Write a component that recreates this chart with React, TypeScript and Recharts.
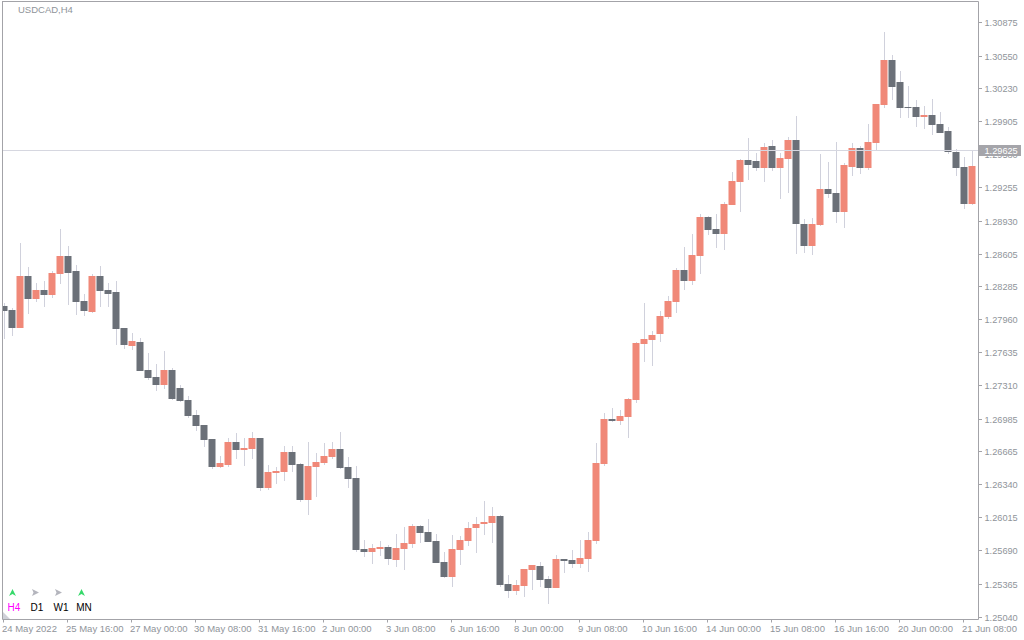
import { Bar, ComposedChart, ReferenceLine, XAxis, YAxis } from "recharts";

const opens = [
  1.28091, 1.28052, 1.27875, 1.28386, 1.2816, 1.28248, 1.28199, 1.28405, 1.28582, 1.28435, 1.2814,
  1.28032, 1.28386, 1.28248, 1.28229, 1.27875, 1.27698, 1.27738, 1.27463, 1.27394, 1.27315, 1.27463,
  1.27286, 1.27168, 1.27021, 1.26923, 1.26785, 1.2651, 1.2653, 1.26756, 1.26677, 1.26687, 1.26795,
  1.26304, 1.26451, 1.26461, 1.26657, 1.2654, 1.26186, 1.2651, 1.26549, 1.26608, 1.26687, 1.2651,
  1.26402, 1.25705, 1.25675, 1.25705, 1.25724, 1.25597, 1.25705, 1.25754, 1.25931, 1.25872, 1.25783,
  1.25577, 1.2543, 1.25695, 1.25783, 1.25911, 1.2595, 1.2596, 1.26029, 1.25361, 1.25293, 1.25342,
  1.25499, 1.25538, 1.2541, 1.25322, 1.25607, 1.25597, 1.25558, 1.25607, 1.25783, 1.2654, 1.26981,
  1.26962, 1.27001, 1.27168, 1.27718, 1.27757, 1.27816, 1.27983, 1.2813, 1.28445, 1.28337, 1.28582,
  1.28965, 1.28847, 1.28798, 1.29083, 1.29309, 1.29525, 1.29515, 1.29446, 1.29662, 1.29446, 1.29535,
  1.29721, 1.28896, 1.2868, 1.28887, 1.2924, 1.29201, 1.29014, 1.29456, 1.29643, 1.29446, 1.29692,
  1.30065, 1.30507, 1.30291, 1.30045, 1.30045, 1.29947, 1.29967, 1.29878, 1.2981, 1.29603, 1.29456,
  1.29093,
];

const highs = [
  1.28121, 1.28071, 1.2871, 1.28474, 1.28317, 1.28337, 1.28435, 1.28847, 1.2868, 1.28494, 1.28209,
  1.28405, 1.28484, 1.28317, 1.28337, 1.27875, 1.27826, 1.27777, 1.2763, 1.27521, 1.2765, 1.27482,
  1.27315, 1.27207, 1.2707, 1.26923, 1.26785, 1.26618, 1.26795, 1.26844, 1.26795, 1.26854, 1.26795,
  1.2653, 1.2651, 1.26716, 1.26716, 1.26549, 1.26756, 1.26648, 1.26746, 1.26756, 1.26854, 1.26608,
  1.2652, 1.25793, 1.25754, 1.25783, 1.25744, 1.25852, 1.25921, 1.2595, 1.2594, 1.25999, 1.25852,
  1.25675, 1.25842, 1.25833, 1.2597, 1.26019, 1.26176, 1.26117, 1.26039, 1.2545, 1.254, 1.25509,
  1.25548, 1.25577, 1.2544, 1.25646, 1.25607, 1.25695, 1.25793, 1.25872, 1.26746, 1.2704, 1.27089,
  1.2707, 1.27188, 1.27738, 1.28121, 1.27846, 1.28042, 1.28189, 1.28464, 1.2867, 1.28798, 1.28995,
  1.28975, 1.28995, 1.29112, 1.29407, 1.29535, 1.29741, 1.29594, 1.29692, 1.29721, 1.29594, 1.29751,
  1.29957, 1.28945, 1.28955, 1.29584, 1.29505, 1.29702, 1.29495, 1.29692, 1.29662, 1.29878, 1.30075,
  1.30782, 1.30556, 1.30399, 1.30251, 1.30114, 1.30055, 1.30124, 1.29996, 1.29849, 1.29633, 1.29554,
  1.29623,
];

const lows = [
  1.27767, 1.27796, 1.27875, 1.28013, 1.2813, 1.28081, 1.2817, 1.28307, 1.28101, 1.28003, 1.27993,
  1.28022, 1.28081, 1.28081, 1.27708, 1.27669, 1.27659, 1.27453, 1.27364, 1.27256, 1.27276, 1.27168,
  1.27149, 1.26991, 1.26864, 1.26707, 1.2649, 1.265, 1.2651, 1.26589, 1.2652, 1.26589, 1.26274,
  1.26284, 1.26343, 1.26373, 1.26461, 1.26166, 1.26039, 1.26216, 1.2653, 1.26589, 1.2649, 1.26304,
  1.25675, 1.25626, 1.25558, 1.25636, 1.25548, 1.25528, 1.25499, 1.25715, 1.25764, 1.25774, 1.25567,
  1.2542, 1.25332, 1.25548, 1.25734, 1.25665, 1.25842, 1.25764, 1.25332, 1.25224, 1.25253, 1.25234,
  1.25302, 1.25332, 1.25165, 1.25322, 1.25469, 1.25519, 1.25519, 1.25479, 1.25754, 1.2652, 1.26952,
  1.26923, 1.26795, 1.27139, 1.27541, 1.27502, 1.27738, 1.27963, 1.28022, 1.28248, 1.28297, 1.28405,
  1.28788, 1.2866, 1.28641, 1.29083, 1.29014, 1.29328, 1.29417, 1.29309, 1.29417, 1.29142, 1.29201,
  1.28602, 1.28612, 1.28592, 1.28877, 1.29152, 1.28906, 1.28857, 1.29368, 1.29387, 1.29427, 1.29613,
  1.30035, 1.30114, 1.29937, 1.29937, 1.29849, 1.29829, 1.2977, 1.2979, 1.29584, 1.29368, 1.29044,
  1.29083,
];

const closes = [
  1.28042, 1.27875, 1.28386, 1.2816, 1.28248, 1.28199, 1.28415, 1.28582, 1.28415, 1.2813, 1.28042,
  1.28386, 1.28238, 1.28209, 1.27865, 1.27708, 1.27747, 1.27453, 1.27384, 1.27315, 1.27463, 1.27178,
  1.27158, 1.27011, 1.26913, 1.26775, 1.2651, 1.26549, 1.26756, 1.26677, 1.26697, 1.26795, 1.26304,
  1.26461, 1.26471, 1.26657, 1.2653, 1.26186, 1.2652, 1.26559, 1.26618, 1.26687, 1.265, 1.26393,
  1.25695, 1.25675, 1.25715, 1.25724, 1.25607, 1.25715, 1.25764, 1.25931, 1.25862, 1.25774, 1.25567,
  1.2543, 1.25705, 1.25793, 1.25911, 1.2595, 1.2597, 1.26029, 1.25352, 1.25293, 1.25352, 1.25509,
  1.25548, 1.254, 1.25322, 1.25607, 1.25587, 1.25558, 1.25616, 1.25793, 1.26549, 1.26981, 1.26962,
  1.27011, 1.27178, 1.27728, 1.27767, 1.27806, 1.27993, 1.2814, 1.28445, 1.28337, 1.28592, 1.28965,
  1.28838, 1.28798, 1.29093, 1.29319, 1.29525, 1.29476, 1.29446, 1.29652, 1.29446, 1.29544, 1.29721,
  1.28896, 1.2868, 1.28896, 1.2924, 1.29191, 1.29014, 1.29476, 1.29643, 1.29446, 1.29702, 1.30075,
  1.30507, 1.30242, 1.30035, 1.30035, 1.29947, 1.29967, 1.29868, 1.2979, 1.29603, 1.29446, 1.29093,
  1.29466,
];

const xTickIndexes = [0, 8, 16, 24, 32, 40, 48, 56, 64, 72, 80, 88, 96, 104, 112, 120];
const xTickLabels = [
  "24 May 2022", "25 May 16:00", "27 May 00:00", "30 May 08:00", "31 May 16:00", "2 Jun 00:00",
  "3 Jun 08:00", "6 Jun 16:00", "8 Jun 00:00", "9 Jun 08:00", "10 Jun 16:00", "14 Jun 00:00",
  "15 Jun 08:00", "16 Jun 16:00", "20 Jun 00:00", "21 Jun 08:00",
];

const priceTicks = [
  1.30875, 1.3055, 1.3023, 1.29905, 1.2958, 1.29255, 1.2893, 1.28605, 1.28285, 1.2796, 1.27635,
  1.2731, 1.26985, 1.26665, 1.2634, 1.26015, 1.2569, 1.25365, 1.2504,
];
const currentPrice = 1.29625;

const UP = "#f08878";
const DOWN = "#6b7078";
const WICK = "#d0d1dc";
const FRAME = "#a3a3a8";
const LABEL = "#8f949a";
const FONT = "'Liberation Sans', sans-serif";

const candles = opens.map((open, i) => ({
  idx: i,
  open,
  high: highs[i],
  low: lows[i],
  close: closes[i],
}));

function Candle(props: any) {
  const { x, y, width, height, payload } = props;
  const { open, high, low, close } = payload;
  const unit = height / (high - low);
  const cx = x + width / 2;
  const top = Math.round(y + (high - Math.max(open, close)) * unit);
  const bottom = Math.round(y + (high - Math.min(open, close)) * unit);
  const left = Math.max(cx - 3.5, 3);
  return (
    <g>
      <rect x={Math.floor(cx)} y={Math.round(y)} width={1} height={Math.round(height)} fill={WICK} />
      <rect
        x={left}
        y={top}
        width={cx + 3.5 - left}
        height={Math.max(bottom - top, 1)}
        fill={close >= open ? UP : DOWN}
      />
    </g>
  );
}

function PriceTick(props: any) {
  const { x, y, payload } = props;
  const current = payload.value === currentPrice;
  const row = Math.round(y);
  return (
    <g>
      {current ? (
        <rect x={979} y={row - 5} width={42} height={11} fill="#a5a5aa" />
      ) : (
        <rect x={979} y={row} width={3} height={1} fill={FRAME} />
      )}
      <text
        x={x}
        y={row + (current ? 4 : 3.5)}
        fontSize={9.2}
        fontFamily={FONT}
        fill={current ? "#ffffff" : LABEL}
      >
        {payload.value.toFixed(5)}
      </text>
    </g>
  );
}

function TimeTick(props: any) {
  const { x, y, payload } = props;
  return (
    <text x={x - 1.5} y={y + 9} fontSize={9.5} fontFamily={FONT} fill={LABEL}>
      {xTickLabels[xTickIndexes.indexOf(payload.value)]}
    </text>
  );
}

function PriceLine(props: any) {
  const row = Math.round(props.y1 ?? props.y) + 0.5;
  return <line x1={props.x1} x2={props.x2} y1={row} y2={row} stroke="#d6d7e0" />;
}

function Overlay() {
  const upArrow = (cx: number) => (
    <polygon
      points={`${cx},589 ${cx + 3.5},596 ${cx},594 ${cx - 3.5},596`}
      fill="#35d96a"
    />
  );
  const sideArrow = (cx: number) => (
    <polygon
      points={`${cx - 3},589 ${cx + 4},592.5 ${cx - 3},596 ${cx - 1.5},592.5`}
      fill="#b4b5bd"
    />
  );
  const tf = { fontSize: 10, fontFamily: FONT, textAnchor: "middle" as const };
  return (
    <svg
      width={1024}
      height={640}
      style={{ position: "absolute", left: 0, top: 0, pointerEvents: "none" }}
    >
      <line x1={2.5} y1={1.5} x2={2.5} y2={619.5} stroke={FRAME} />
      <line x1={2} y1={1.5} x2={978.5} y2={1.5} stroke={FRAME} />
      <polygon points="3,612 3,619 10,619" fill="#cfd0d8" />
      <text x={18} y={13} fontSize={9.5} fontFamily={FONT} fill={LABEL}>
        USDCAD,H4
      </text>
      {upArrow(12.5)}
      {sideArrow(35)}
      {sideArrow(58)}
      {upArrow(81.5)}
      <text x={14} y={611} fill="#ff00ff" {...tf}>H4</text>
      <text x={37} y={611} fill="#000000" {...tf}>D1</text>
      <text x={61} y={611} fill="#000000" {...tf}>W1</text>
      <text x={84} y={611} fill="#000000" {...tf}>MN</text>
    </svg>
  );
}

export default function App() {
  return (
    <div style={{ position: "absolute", left: 0, top: 0, width: 1024, height: 640, background: "#fff" }}>
      <ComposedChart
        width={1024}
        height={640}
        data={candles}
        barCategoryGap={0}
        margin={{ top: 1.5, right: 0, bottom: 0, left: 2.5 }}
      >
        <XAxis
          dataKey="idx"
          ticks={xTickIndexes}
          interval={0}
          height={20.5}
          padding={{ left: -3, right: 3 }}
          tickSize={3}
          tickMargin={0}
          stroke={FRAME}
          tick={<TimeTick />}
        />
        <YAxis
          orientation="right"
          width={45.5}
          domain={[1.25012, 1.31081]}
          ticks={[...priceTicks, currentPrice]}
          interval={0}
          tickLine={false}
          tickSize={3}
          tickMargin={3}
          stroke={FRAME}
          tick={<PriceTick />}
        />
        <ReferenceLine y={currentPrice} shape={<PriceLine />} />
        <Bar
          dataKey={(d: any) => [d.low, d.high]}
          barSize={7}
          shape={<Candle />}
          isAnimationActive={false}
        />
      </ComposedChart>
      <Overlay />
    </div>
  );
}
